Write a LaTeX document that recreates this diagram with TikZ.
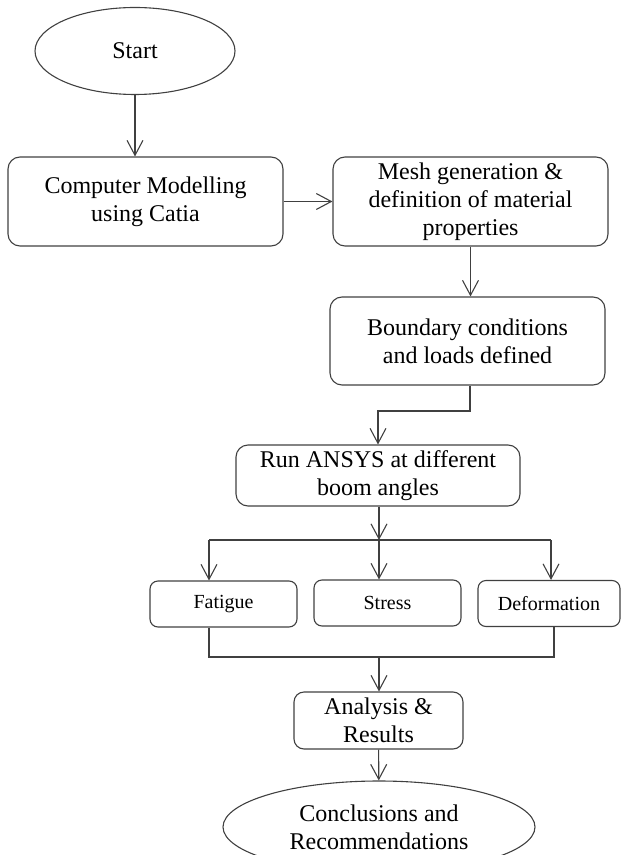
\documentclass[tikz,border=0pt]{standalone}
\usepackage{fontspec}
\setmainfont{Liberation Serif}
\usetikzlibrary{arrows.meta,shapes.geometric}
\definecolor{linegray}{RGB}{64,64,64}

\begin{document}
\begin{tikzpicture}[x=0.5pt, y=-0.5pt, line width=0.55pt,
    every node/.style={font=\fontsize{12}{14}\selectfont, text=black},
    box/.style={draw=linegray, rectangle, rounded corners=6pt, align=center, inner sep=0pt},
    smallbox/.style={box, rounded corners=4pt, font=\fontsize{10}{12}\selectfont},
    oval/.style={draw=linegray, ellipse, align=center, inner sep=0pt},
    arr/.style={draw=linegray, -{Straight Barb[length=7.5pt, width=8pt]}},
    link/.style={draw=linegray}]
    \clip (0,0) rectangle (622,855);

    % Start
    \node[oval, minimum width=100pt, minimum height=43.5pt] (start) at (135,51) {Start};

    % Steps
    \node[box, minimum width=137.5pt, minimum height=44.5pt] (model) at (145.5,201.5) {Computer Modelling\\using Catia};
    \node[box, minimum width=137.5pt, minimum height=44.5pt] (mesh) at (470.5,201.5) {Mesh generation \&\\definition of material\\properties};
    \node[box, minimum width=137.5pt, minimum height=44pt] (bc) at (467.5,341) {Boundary conditions\\and loads defined};
    \node[box, minimum width=142pt, minimum height=30.5pt] (run) at (378,475.5) {Run ANSYS at different\\boom angles};

    % Results
    \node[smallbox, minimum width=73.5pt, minimum height=23pt] (fatigue) at (223.5,604) {Fatigue};
    \node[smallbox, minimum width=73.5pt, minimum height=23pt] (stress) at (387.5,603) {Stress};
    \node[smallbox, minimum width=71pt, minimum height=23pt] (deform) at (549,603.5) {Deformation};

    \node[box, rounded corners=5pt, minimum width=84.5pt, minimum height=28.5pt] (analysis) at (378.5,720.5) {Analysis \&\\Results};
    \node[oval, minimum width=156pt, minimum height=46pt] (concl) at (379,827) {Conclusions and\\Recommendations};

    \coordinate (split) at (379,540);
    \coordinate (splitL) at (209,540);
    \coordinate (splitR) at (551,540);
    \coordinate (join) at (379,657);
    \coordinate (joinL) at (209,657);
    \coordinate (joinR) at (554,657);
    \coordinate (bend) at (470,411);

    % Connectors
    \draw[arr] (start.south) -- (start.south |- model.north);
    \draw[arr] (model) -- (mesh);
    \draw[arr] (mesh.south) -- (mesh.south |- bc.north);
    \draw[arr] (bend |- bc.south) -- (bend) -| (run.north);
    \draw[arr] (run.south -| split) -- (split);
    \draw[link] (splitL) -- (splitR);
    \foreach \n/\c in {fatigue/splitL, stress/split, deform/splitR}
        \draw[arr] (\c) -- (\c |- \n.north);
    \draw[link] (joinL |- fatigue.south) -- (joinL) -- (joinR) -- (joinR |- deform.south);
    \draw[arr] (join) -- (join |- analysis.north);
    \draw[arr] (analysis) -- (concl);
\end{tikzpicture}
\end{document}
